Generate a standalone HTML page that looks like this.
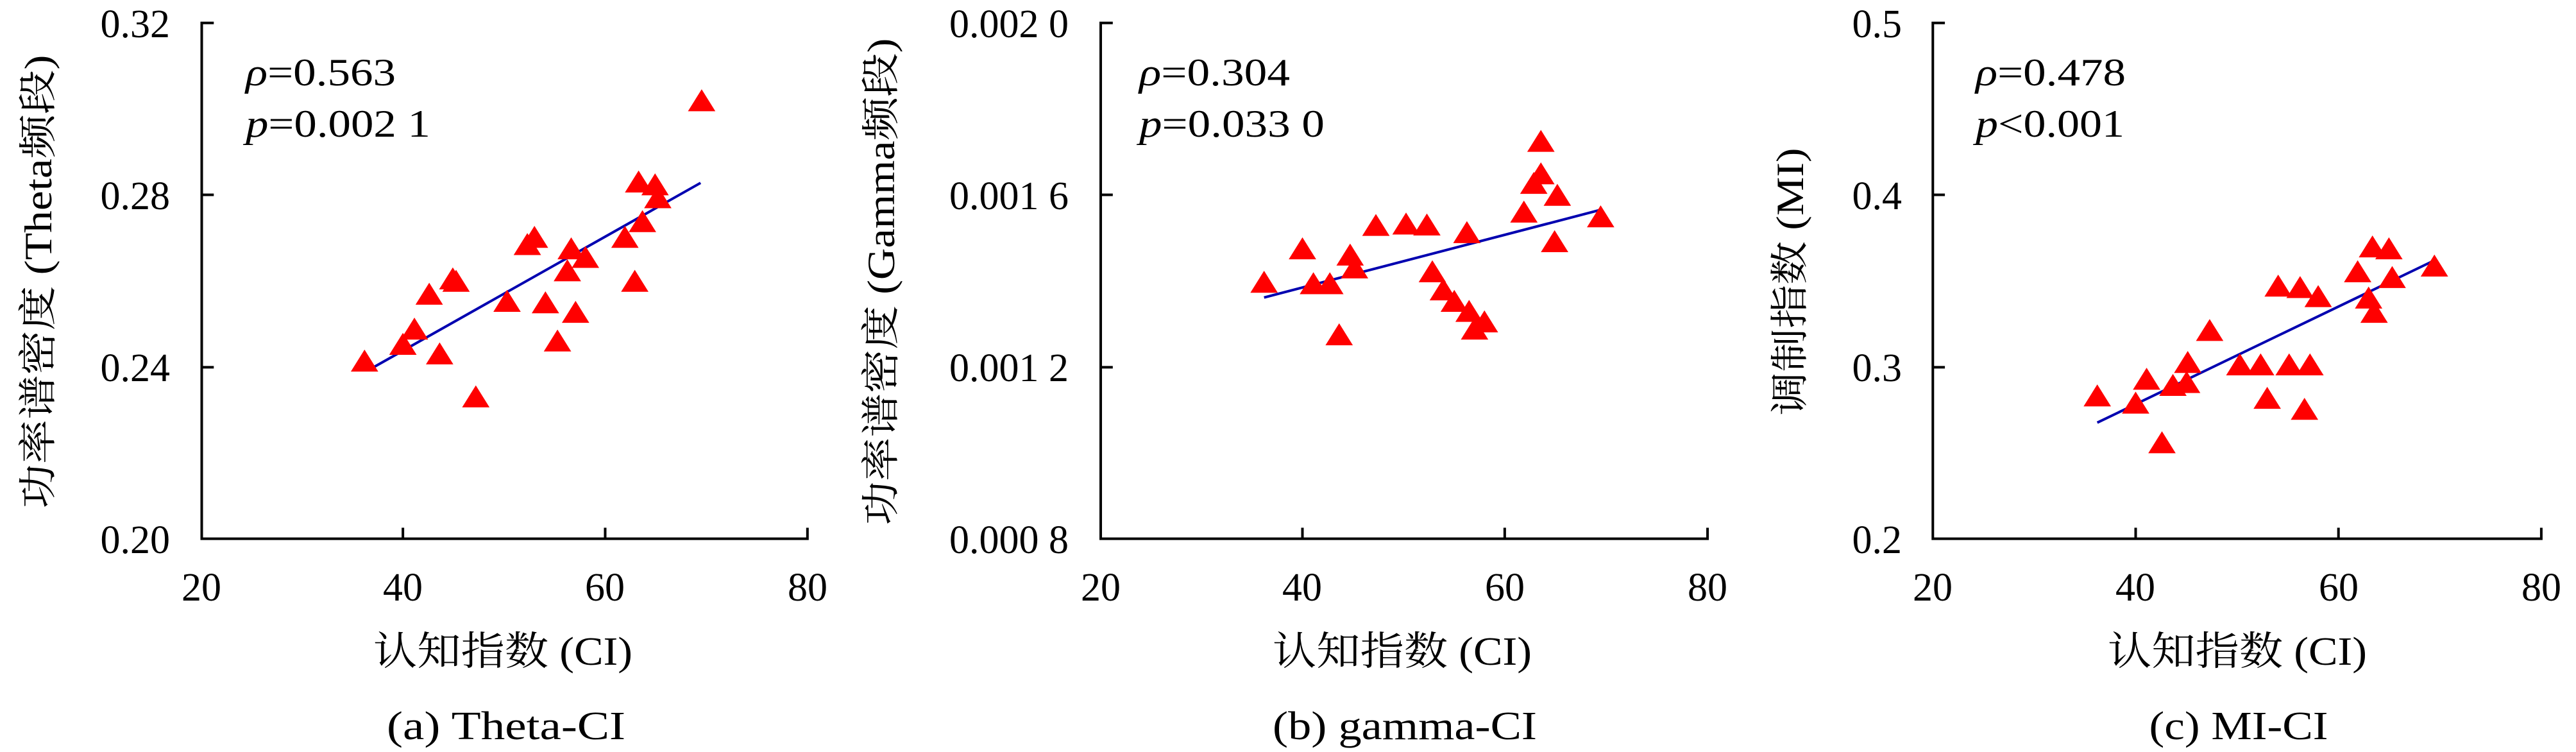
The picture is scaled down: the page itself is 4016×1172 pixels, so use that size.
<!DOCTYPE html>
<html><head><meta charset="utf-8"><style>
html,body{margin:0;padding:0;background:#fff;}
svg text{font-family:"Liberation Serif","Noto Serif CJK SC",serif;fill:#000;}
</style></head><body>
<svg width="4016" height="1167" viewBox="0 0 4016 1167" xmlns="http://www.w3.org/2000/svg">
<defs>
<g id="tri"><polygon points="0,-25 -25,21 25,21" fill="#ff0000"/></g>
</defs>

<!-- Panel A -->
<g>
<g transform="translate(0,0) scale(0.8546,0.7443)">
<polyline points="390,48 368,48 368,1128 1473,1128 1473,1105" fill="none" stroke="#000" stroke-width="4" vector-effect="non-scaling-stroke"/>
<line x1="368" y1="408" x2="390" y2="408" stroke="#000" stroke-width="4" vector-effect="non-scaling-stroke"/>
<line x1="368" y1="769" x2="390" y2="769" stroke="#000" stroke-width="4" vector-effect="non-scaling-stroke"/>
<line x1="735" y1="1128" x2="735" y2="1105" stroke="#000" stroke-width="4" vector-effect="non-scaling-stroke"/>
<line x1="1104" y1="1128" x2="1104" y2="1105" stroke="#000" stroke-width="4" vector-effect="non-scaling-stroke"/>
<line x1="683" y1="768" x2="1278" y2="383" stroke="#0000b0" stroke-width="4" vector-effect="non-scaling-stroke"/>
<use href="#tri" x="665" y="757"/><use href="#tri" x="735" y="722"/><use href="#tri" x="756" y="690"/><use href="#tri" x="783" y="617"/><use href="#tri" x="802" y="742"/><use href="#tri" x="826" y="585"/><use href="#tri" x="832" y="590"/><use href="#tri" x="868" y="832"/><use href="#tri" x="925" y="632"/><use href="#tri" x="962" y="513"/><use href="#tri" x="975" y="498"/><use href="#tri" x="995" y="635"/><use href="#tri" x="1017" y="715"/><use href="#tri" x="1035" y="568"/><use href="#tri" x="1042" y="522"/><use href="#tri" x="1050" y="655"/><use href="#tri" x="1068" y="540"/><use href="#tri" x="1140" y="498"/><use href="#tri" x="1158" y="590"/><use href="#tri" x="1165" y="382"/><use href="#tri" x="1172" y="465"/><use href="#tri" x="1195" y="388"/><use href="#tri" x="1200" y="415"/><use href="#tri" x="1280" y="212"/>
</g>
<g font-size="62" text-anchor="end">
<text x="265" y="58">0.32</text><text x="265" y="326">0.28</text><text x="265" y="594">0.24</text><text x="265" y="862">0.20</text>
</g>
<g font-size="62" text-anchor="middle">
<text x="314" y="936">20</text><text x="628" y="936">40</text><text x="943" y="936">60</text><text x="1259" y="936">80</text>
<text x="784" y="1036" textLength="404" lengthAdjust="spacingAndGlyphs">认知指数 (CI)</text>
<text x="789" y="1152" textLength="372" lengthAdjust="spacingAndGlyphs">(a) Theta-CI</text>
</g>
<text x="383" y="133" font-size="60" textLength="234" lengthAdjust="spacingAndGlyphs"><tspan font-style="italic">ρ</tspan>=0.563</text>
<text x="383" y="213" font-size="60" textLength="288" lengthAdjust="spacingAndGlyphs"><tspan font-style="italic">p</tspan>=0.002 1</text>
<text transform="translate(80,439) rotate(-90)" font-size="60" text-anchor="middle" textLength="707" lengthAdjust="spacingAndGlyphs">功率谱密度 (Theta频段)</text>
</g>

<!-- Panel B -->
<g>
<g transform="translate(1340,0) scale(0.8546,0.7443)">
<polyline points="462,48 440,48 440,1128 1547,1128 1547,1105" fill="none" stroke="#000" stroke-width="4" vector-effect="non-scaling-stroke"/>
<line x1="440" y1="408" x2="462" y2="408" stroke="#000" stroke-width="4" vector-effect="non-scaling-stroke"/>
<line x1="440" y1="769" x2="462" y2="769" stroke="#000" stroke-width="4" vector-effect="non-scaling-stroke"/>
<line x1="808" y1="1128" x2="808" y2="1105" stroke="#000" stroke-width="4" vector-effect="non-scaling-stroke"/>
<line x1="1177" y1="1128" x2="1177" y2="1105" stroke="#000" stroke-width="4" vector-effect="non-scaling-stroke"/>
<line x1="738" y1="623" x2="1350" y2="440" stroke="#0000b0" stroke-width="4" vector-effect="non-scaling-stroke"/>
<use href="#tri" x="738" y="592"/><use href="#tri" x="808" y="522"/><use href="#tri" x="828" y="595"/><use href="#tri" x="858" y="595"/><use href="#tri" x="875" y="702"/><use href="#tri" x="895" y="535"/><use href="#tri" x="903" y="562"/><use href="#tri" x="942" y="473"/><use href="#tri" x="997" y="470"/><use href="#tri" x="1035" y="472"/><use href="#tri" x="1045" y="570"/><use href="#tri" x="1065" y="608"/><use href="#tri" x="1085" y="632"/><use href="#tri" x="1108" y="488"/><use href="#tri" x="1112" y="653"/><use href="#tri" x="1122" y="690"/><use href="#tri" x="1140" y="675"/><use href="#tri" x="1212" y="445"/><use href="#tri" x="1230" y="385"/><use href="#tri" x="1243" y="365"/><use href="#tri" x="1243" y="297"/><use href="#tri" x="1273" y="410"/><use href="#tri" x="1268" y="507"/><use href="#tri" x="1352" y="455"/>
</g>
<g font-size="62" text-anchor="end">
<text x="1666" y="58">0.002 0</text><text x="1666" y="326">0.001 6</text><text x="1666" y="594">0.001 2</text><text x="1666" y="862">0.000 8</text>
</g>
<g font-size="62" text-anchor="middle">
<text x="1716" y="936">20</text><text x="2030" y="936">40</text><text x="2346" y="936">60</text><text x="2662" y="936">80</text>
<text x="2186" y="1036" textLength="404" lengthAdjust="spacingAndGlyphs">认知指数 (CI)</text>
<text x="2190" y="1152" textLength="412" lengthAdjust="spacingAndGlyphs">(b) gamma-CI</text>
</g>
<text x="1776" y="133" font-size="60" textLength="235" lengthAdjust="spacingAndGlyphs"><tspan font-style="italic">ρ</tspan>=0.304</text>
<text x="1776" y="213" font-size="60" textLength="289" lengthAdjust="spacingAndGlyphs"><tspan font-style="italic">p</tspan>=0.033 0</text>
<text transform="translate(1394,439) rotate(-90)" font-size="60" text-anchor="middle" textLength="759" lengthAdjust="spacingAndGlyphs">功率谱密度 (Gamma频段)</text>
</g>

<!-- Panel C -->
<g>
<g transform="translate(2680,0) scale(0.8546,0.7443)">
<polyline points="412,48 390,48 390,1128 1500,1128 1500,1105" fill="none" stroke="#000" stroke-width="4" vector-effect="non-scaling-stroke"/>
<line x1="390" y1="408" x2="412" y2="408" stroke="#000" stroke-width="4" vector-effect="non-scaling-stroke"/>
<line x1="390" y1="769" x2="412" y2="769" stroke="#000" stroke-width="4" vector-effect="non-scaling-stroke"/>
<line x1="760" y1="1128" x2="760" y2="1105" stroke="#000" stroke-width="4" vector-effect="non-scaling-stroke"/>
<line x1="1130" y1="1128" x2="1130" y2="1105" stroke="#000" stroke-width="4" vector-effect="non-scaling-stroke"/>
<line x1="690" y1="885" x2="1300" y2="548" stroke="#0000b0" stroke-width="4" vector-effect="non-scaling-stroke"/>
<use href="#tri" x="690" y="830"/><use href="#tri" x="760" y="845"/><use href="#tri" x="780" y="795"/><use href="#tri" x="808" y="928"/><use href="#tri" x="828" y="808"/><use href="#tri" x="853" y="802"/><use href="#tri" x="855" y="760"/><use href="#tri" x="895" y="693"/><use href="#tri" x="950" y="765"/><use href="#tri" x="988" y="765"/><use href="#tri" x="1000" y="835"/><use href="#tri" x="1020" y="600"/><use href="#tri" x="1040" y="765"/><use href="#tri" x="1060" y="603"/><use href="#tri" x="1068" y="858"/><use href="#tri" x="1078" y="765"/><use href="#tri" x="1093" y="622"/><use href="#tri" x="1165" y="570"/><use href="#tri" x="1185" y="625"/><use href="#tri" x="1195" y="655"/><use href="#tri" x="1192" y="518"/><use href="#tri" x="1222" y="522"/><use href="#tri" x="1228" y="582"/><use href="#tri" x="1305" y="558"/>
</g>
<g font-size="62" text-anchor="end">
<text x="2965" y="58">0.5</text><text x="2965" y="326">0.4</text><text x="2965" y="594">0.3</text><text x="2965" y="862">0.2</text>
</g>
<g font-size="62" text-anchor="middle">
<text x="3013" y="936">20</text><text x="3329" y="936">40</text><text x="3646" y="936">60</text><text x="3962" y="936">80</text>
<text x="3488" y="1036" textLength="404" lengthAdjust="spacingAndGlyphs">认知指数 (CI)</text>
<text x="3490" y="1152" textLength="279" lengthAdjust="spacingAndGlyphs">(c) MI-CI</text>
</g>
<text x="3080" y="133" font-size="60" textLength="234" lengthAdjust="spacingAndGlyphs"><tspan font-style="italic">ρ</tspan>=0.478</text>
<text x="3080" y="213" font-size="60" textLength="232" lengthAdjust="spacingAndGlyphs"><tspan font-style="italic">p</tspan>&lt;0.001</text>
<text transform="translate(2811,439) rotate(-90)" font-size="60" text-anchor="middle" textLength="417" lengthAdjust="spacingAndGlyphs">调制指数 (MI)</text>
</g>
</svg>
</body></html>
